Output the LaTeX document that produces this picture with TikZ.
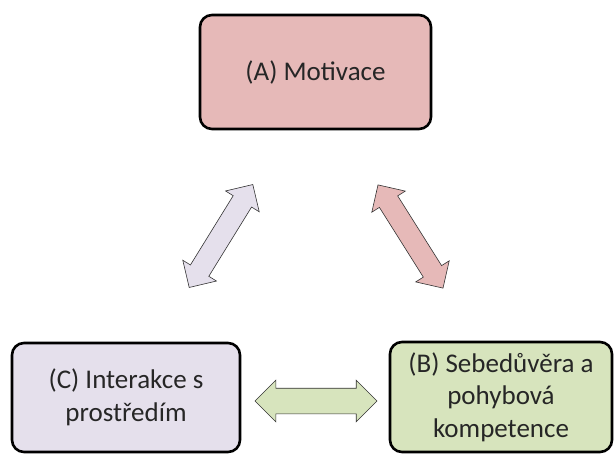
\documentclass[tikz,border=0pt]{standalone}
\usepackage{fontspec}
\setmainfont{Carlito}
\usetikzlibrary{shapes.arrows}
\definecolor{pinkA}{HTML}{E6B9B8}
\definecolor{lavC}{HTML}{E5E0EC}
\definecolor{greenB}{HTML}{D7E4BD}
\begin{document}
\begin{tikzpicture}[x=1pt,y=-1pt,
  box/.style={draw=black,line width=2.6pt,rounded corners=12pt,inner sep=0pt,
    font=\fontsize{27}{32.5}\selectfont,align=center,text=black!85},
  darr/.style={shape=double arrow,draw=black!80,line width=0.6pt,inner xsep=0pt,
    inner ysep=10.5pt,double arrow head extend=9pt,
    double arrow head indent=0pt}]
\useasboundingbox (0,0) rectangle (615,458);
\node[box,fill=pinkA,minimum width=231pt,minimum height=114pt] (A) at (315.5,72) {(A) Motivace};
\node[box,fill=lavC,minimum width=228pt,minimum height=109pt] (C) at (126,397.5) {(C) Interakce s\\prostředím};
\node[box,fill=greenB,minimum width=222pt,minimum height=110pt] (B) at (501,397) {(B) Sebedůvěra a\\pohybová\\kompetence};
\node[darr,fill=lavC,minimum height=121pt,rotate=58.3] (CA) at (221,236) {};
\node[darr,fill=pinkA,minimum height=122pt,rotate=-57.8] (AB) at (410.5,236.5) {};
\node[darr,fill=greenB,minimum height=122pt,inner ysep=12.5pt,double arrow head extend=8pt] (CB) at (316,401) {};
\end{tikzpicture}
\end{document}
